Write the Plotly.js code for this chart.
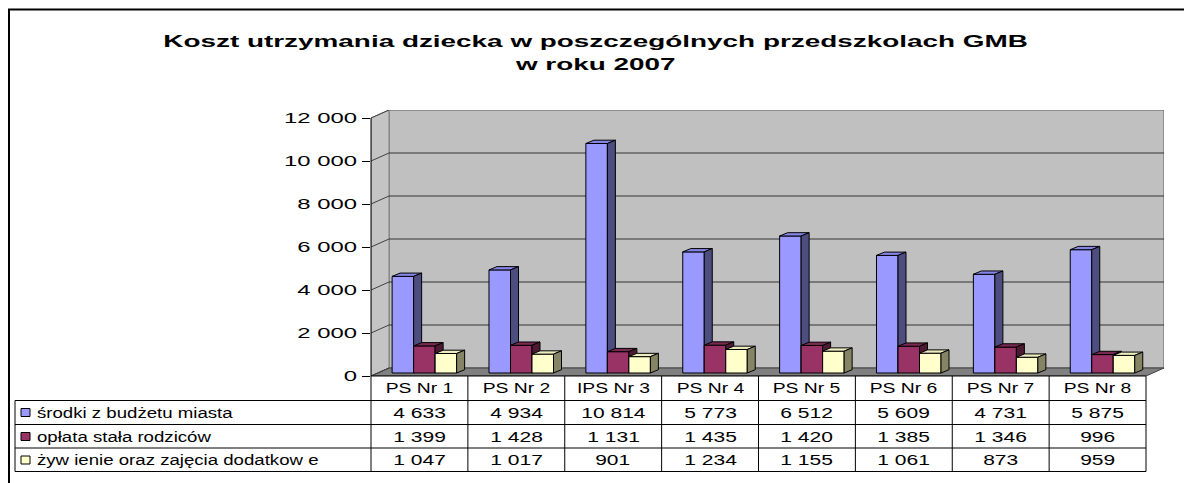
<!DOCTYPE html>
<html><head><meta charset="utf-8">
<script src="https://cdn.plot.ly/plotly-3.0.1.min.js"></script>
<style>html,body{margin:0;padding:0;background:#fff;} #chart{width:1184px;height:483px;}</style>
</head><body><div id="chart"></div>
<script>
// ---------- data ----------
const categories = ['PS Nr 1','PS Nr 2','IPS Nr 3','PS Nr 4','PS Nr 5','PS Nr 6','PS Nr 7','PS Nr 8'];
const seriesNames = ['środki z budżetu miasta','opłata stała rodziców','żyw ienie oraz zajęcia dodatkow e'];
const budzetMiasta = [4633,4934,10814,5773,6512,5609,4731,5875];
const oplataStala  = [1399,1428,1131,1435,1420,1385,1346,996];
const zywienie     = [1047,1017,901,1234,1155,1061,873,959];
const yTickValues  = [0,2000,4000,6000,8000,10000,12000];
const titleLines   = ['Koszt utrzymania dziecka w poszczególnych przedszkolach GMB','w roku 2007'];

// ---------- styles / geometry ----------
const FONT = 'Liberation Sans, Arial, sans-serif';
const W = 1184, H = 483;
const PL = 371, PR = 1164, PT = 110, PB = 376;   // plot area in px
const DEPTH_X = 18, DEPTH_Y = 8;                  // wall depth in px
const YMAX_PX = 118;                              // px of top tick
const series = [budzetMiasta, oplataStala, zywienie];
const faceColors = [
  {front:'#9999FF', top:'#8585E8', side:'#4D4D80'},
  {front:'#993366', top:'#7A2952', side:'#4D1A33'},
  {front:'#FFFFCC', top:'#EDEDC0', side:'#858566'}
];
const nCat = categories.length;
const yMax = yTickValues[yTickValues.length-1];
const catW = (PR - PL - DEPTH_X) / nCat;
const dX = DEPTH_X / catW;
const yPerPx = yMax / (PB - YMAX_PX);
const dY = DEPTH_Y * yPerPx;
const xRange = [-0.5, nCat - 0.5 + dX];
const yRange = [0, yMax + dY];
const barOffsets = [-0.282, -0.060, 0.162];
const barW = 0.222;
const bdx = 8 / catW, bdy = 3.3 * yPerPx, base = 3 * yPerPx;

const xp = px => (px - PL) / (PR - PL);
const yp = py => (PB - py) / (PB - PT);
const xd2p = x => (x - xRange[0]) / (xRange[1] - xRange[0]);
const fmt = v => String(v).replace(/\B(?=(\d{3})+(?!\d))/g, ' ');

// ---------- bar traces (3D faces) ----------
const traces = [];
series.forEach((vals, s) => {
  const fx=[], fy=[], tx=[], ty=[], sx=[], sy=[];
  vals.forEach((v, i) => {
    const x0 = i + barOffsets[s], x1 = x0 + barW;
    fx.push(x0,x1,x1,x0,x0,null); fy.push(base,base,v,v,base,null);
    tx.push(x0,x1,x1+bdx,x0+bdx,x0,null); ty.push(v,v,v+bdy,v+bdy,v,null);
    sx.push(x1,x1+bdx,x1+bdx,x1,x1,null); sy.push(base,base+bdy,v+bdy,v,base,null);
  });
  const mk = (x,y,c) => ({type:'scatter', mode:'lines', x, y, fill:'toself', fillcolor:c,
    line:{color:'#000', width:1}, hoverinfo:'skip', showlegend:false});
  traces.push(mk(fx,fy,faceColors[s].front), mk(tx,ty,faceColors[s].top), mk(sx,sy,faceColors[s].side));
});

// ---------- shapes ----------
const shapes = [];
shapes.push({type:'rect', layer:'below', xref:'x', yref:'y', x0:-0.5+dX, x1:nCat-0.5+dX, y0:dY, y1:yMax+dY,
  fillcolor:'#C0C0C0', line:{color:'#808080', width:1.5}});
shapes.push({type:'path', layer:'below', xref:'x', yref:'y',
  path:`M ${-0.5},0 L ${-0.5+dX},${dY} L ${-0.5+dX},${yMax+dY} L ${-0.5},${yMax} Z`,
  fillcolor:'#C4C4C4', line:{color:'#808080', width:1}});
shapes.push({type:'path', layer:'below', xref:'x', yref:'y',
  path:`M ${-0.5},0 L ${nCat-0.5},0 L ${nCat-0.5+dX},${dY} L ${-0.5+dX},${dY} Z`,
  fillcolor:'#808080', line:{color:'#404040', width:1}});
yTickValues.forEach(v => {
  if (v > 0 && v < yMax) shapes.push({type:'line', layer:'below', xref:'x', yref:'y',
    x0:-0.5+dX, x1:nCat-0.5+dX, y0:v+dY, y1:v+dY, line:{color:'#333', width:1}});
  shapes.push({type:'line', layer:'below', xref:'x', yref:'y',
    x0:-0.5, x1:-0.5+dX, y0:v, y1:v+dY, line:{color:'#404040', width:1}});
});
shapes.push({type:'line', xref:'paper', yref:'paper', x0:0, x1:0, y0:0, y1:yMax/yRange[1], line:{color:'#000', width:1}});
shapes.push({type:'path', xref:'paper', yref:'paper',
  path:`M ${xp(9)},${yp(H+5)} L ${xp(9)},${yp(9.5)} L ${xp(W+5)},${yp(9.5)}`, line:{color:'#000', width:2}});
// data table
const rowLines = [376, 400.5, 424.5, 448, 471.5];
const rowCenters = [388, 412.5, 436.5, 460];
const tableRight = xd2p(nCat-0.5);
shapes.push({type:'line', xref:'paper', yref:'paper', x0:0, x1:tableRight, y0:yp(rowLines[0]), y1:yp(rowLines[0]), line:{color:'#000', width:1}});
for (let r = 1; r < rowLines.length; r++) {
  shapes.push({type:'line', xref:'paper', yref:'paper', x0:xp(15), x1:tableRight, y0:yp(rowLines[r]), y1:yp(rowLines[r]), line:{color:'#000', width:1}});
}
for (let i = -1; i < nCat; i++) {
  const xx = xd2p(i+0.5);
  shapes.push({type:'line', xref:'paper', yref:'paper', x0:xx, x1:xx, y0:yp(rowLines[0]), y1:yp(rowLines[4]), line:{color:'#000', width:1}});
}
shapes.push({type:'line', xref:'paper', yref:'paper', x0:xp(15), x1:xp(15), y0:yp(rowLines[1]), y1:yp(rowLines[4]), line:{color:'#000', width:1}});
faceColors.forEach((c, s) => {
  const yc = rowCenters[s+1];
  shapes.push({type:'rect', xref:'paper', yref:'paper', x0:xp(21), x1:xp(30), y0:yp(yc+4), y1:yp(yc-4),
    fillcolor:c.front, line:{color:'#000', width:1}});
});

// ---------- annotations ----------
const annotations = [], stretchK = [];
titleLines.forEach((t, k) => {
  annotations.push({text:'<b>'+t+'</b>', xref:'paper', yref:'paper', x:xp(595), y:yp(k===0?41.5:64),
    xanchor:'center', yanchor:'middle', showarrow:false, font:{family:FONT, size:17, color:'#000'}});
  stretchK.push(1.64);
});
categories.forEach((c, i) => {
  annotations.push({text:c, xref:'x', yref:'paper', x:i, y:yp(rowCenters[0]), xanchor:'center', yanchor:'middle',
    showarrow:false, font:{family:FONT, size:14, color:'#000'}});
  stretchK.push(1.38);
});
series.forEach((vals, s) => {
  vals.forEach((v, i) => {
    annotations.push({text:fmt(v), xref:'x', yref:'paper', x:i, y:yp(rowCenters[s+1]), xanchor:'center', yanchor:'middle',
      showarrow:false, font:{family:FONT, size:14, color:'#000'}});
    stretchK.push(1.5);
  });
  annotations.push({text:seriesNames[s], xref:'paper', yref:'paper', x:xp(35), y:yp(rowCenters[s+1]), xanchor:'left', yanchor:'middle',
    align:'left', showarrow:false, font:{family:FONT, size:14, color:'#000'}});
  stretchK.push(1.33);
});

const layout = {
  width: W, height: H,
  margin: {l:PL, r:W-PR, t:PT, b:H-PB, pad:0},
  paper_bgcolor:'#fff', plot_bgcolor:'rgba(0,0,0,0)',
  separators: ', ',
  showlegend:false,
  xaxis: {range:xRange, visible:false, fixedrange:true},
  yaxis: {range:yRange, tickvals:yTickValues, tickformat:',d', ticks:'outside', ticklen:8, tickcolor:'#000', tickwidth:1,
    showgrid:false, zeroline:false, showline:false, ticklabelstandoff:2,
    tickfont:{family:FONT, size:15, color:'#000'}, fixedrange:true},
  shapes, annotations
};

const gd = document.getElementById('chart');
Plotly.newPlot(gd, traces, layout, {staticPlot:true, displayModeBar:false}).then(() => {
  const stretch = (el, k) => {
    const len = el.getComputedTextLength();
    el.setAttribute('textLength', (len * k).toFixed(1));
    el.setAttribute('lengthAdjust', 'spacingAndGlyphs');
  };
  gd.querySelectorAll('.ytick text').forEach(el => stretch(el, 1.59));
  gd.querySelectorAll('g.annotation').forEach(g => {
    const idx = +g.getAttribute('data-index');
    const t = g.querySelector('text.annotation-text');
    if (!t) return;
    if (stretchK[idx] === 1.33) {
      t.setAttribute('text-anchor', 'start');
      const bb = t.getBBox();
      t.setAttribute('x', bb.x.toFixed(1));
    }
    stretch(t, stretchK[idx]);
  });
});
</script>
</body></html>
